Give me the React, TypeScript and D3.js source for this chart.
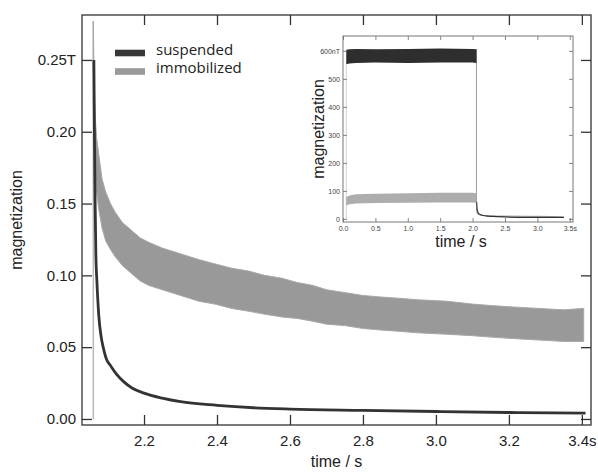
import { useEffect, useRef } from "react";
import * as d3 from "d3";

// main panel, x in s, y in T
const xTicks = [2.2, 2.4, 2.6, 2.8, 3.0, 3.2, 3.4];
const yTicks = [0, 0.05, 0.1, 0.15, 0.2, 0.25];

// suspended: decay curve after the field is switched off
const suspTime = [2.0625, 2.064, 2.066, 2.068, 2.071, 2.076, 2.082, 2.089, 2.098, 2.107, 2.125, 2.144, 2.167, 2.2, 2.25, 2.3, 2.4, 2.5, 2.6, 2.8, 3.0, 3.2, 3.41];
const suspValue = [0.25, 0.2, 0.15, 0.115, 0.095, 0.072, 0.058, 0.049, 0.041, 0.0376, 0.031, 0.026, 0.0216, 0.018, 0.0145, 0.012, 0.0095, 0.0078, 0.0069, 0.006, 0.0052, 0.0045, 0.004];

// immobilized: noisy band, read as upper / lower envelope
const immoTime = [2.061, 2.063, 2.066, 2.07, 2.076, 2.085, 2.095, 2.108, 2.121, 2.14, 2.167, 2.19, 2.213, 2.25, 2.3, 2.35, 2.394, 2.44, 2.487, 2.53, 2.578, 2.62, 2.663, 2.7, 2.75, 2.8, 2.846, 2.9, 2.95, 3.03, 3.1, 3.15, 3.211, 3.28, 3.35, 3.405];
const immoUpper = [0.277, 0.235, 0.212, 0.196, 0.184, 0.167, 0.158, 0.15, 0.144, 0.137, 0.131, 0.126, 0.123, 0.119, 0.115, 0.111, 0.108, 0.105, 0.103, 0.1, 0.098, 0.095, 0.093, 0.09, 0.088, 0.086, 0.085, 0.084, 0.083, 0.082, 0.08, 0.079, 0.078, 0.077, 0.076, 0.077];
const immoLower = [0.25, 0.2, 0.172, 0.158, 0.146, 0.133, 0.124, 0.118, 0.113, 0.107, 0.101, 0.096, 0.093, 0.09, 0.086, 0.082, 0.08, 0.077, 0.075, 0.073, 0.071, 0.07, 0.068, 0.066, 0.065, 0.063, 0.062, 0.061, 0.06, 0.059, 0.058, 0.057, 0.056, 0.055, 0.054, 0.054];
const immoSwitchTime = 2.061;

// inset, x in s, y in nT
const insetXTicks = [0, 0.5, 1.0, 1.5, 2.0, 2.5, 3.0, 3.5];
const insetYTicks = [0, 100, 200, 300, 400, 500, 600];
const insetOnTime = [0.05, 0.1, 0.2, 0.5, 1.0, 1.5, 2.0, 2.06];
const insetSuspUpper = [604, 606, 607, 606, 607, 608, 607, 606];
const insetSuspLower = [552, 555, 557, 558, 557, 558, 558, 557];
const insetImmoUpper = [78, 84, 88, 90, 92, 93, 93, 92];
const insetImmoLower = [48, 52, 55, 57, 58, 59, 59, 58];
const insetOffTime = [2.062, 2.07, 2.08, 2.1, 2.15, 2.2, 2.3, 2.5, 3.0, 3.41];
const insetSuspOff = [60, 35, 25, 18, 13, 11, 9, 7, 5.5, 5];
const insetImmoOff = [40, 22, 18, 15, 13, 12, 11, 10, 9, 8.5];

export default function App() {
  const ref = useRef<SVGSVGElement>(null);

  useEffect(() => {
    const width = 598;
    const height = 473;
    const left = 82, right = 591, top = 15, bottom = 425;
    const font = "'Liberation Sans', Arial, sans-serif";
    const axisColor = "#333";

    const svg = d3.select(ref.current);
    svg.selectAll("*").remove();
    svg.attr("width", width).attr("height", height).attr("viewBox", [0, 0, width, height]);

    const x = d3.scaleLinear().domain([2.03, 3.425]).range([left, right]);
    const y = d3.scaleLinear().domain([-0.0042, 0.2813]).range([bottom, top]);

    // immobilized band
    const immo = immoTime.map((t, i) => ({ t, hi: immoUpper[i], lo: immoLower[i] }));
    svg.append("line")
      .attr("x1", x(immoSwitchTime)).attr("x2", x(immoSwitchTime))
      .attr("y1", y(0)).attr("y2", y(immoUpper[0]))
      .attr("stroke", "#b8b8b8").attr("stroke-width", 1.5);
    svg.append("path")
      .datum(immo)
      .attr("fill", "#999")
      .attr("stroke", "#a8a8a8")
      .attr("stroke-width", 1)
      .attr("d", d3.area<any>().x(d => x(d.t)).y0(d => y(d.lo)).y1(d => y(d.hi)));

    // suspended curve
    svg.append("path")
      .datum(suspTime.map((t, i) => ({ t, v: suspValue[i] })))
      .attr("fill", "none")
      .attr("stroke", "#333")
      .attr("stroke-width", 2.8)
      .attr("stroke-linejoin", "round")
      .attr("d", d3.line<any>().curve(d3.curveMonotoneX).x(d => x(d.t)).y(d => y(d.v)));

    // axes with inward ticks on all four sides
    const styleAxis = (g: any) => {
      g.select(".domain").remove();
      g.selectAll("line").attr("stroke", axisColor).attr("stroke-width", 1.3);
      g.selectAll("text").attr("fill", "#222").attr("font-family", font).attr("font-size", 15);
    };
    svg.append("g")
      .attr("transform", `translate(0,${bottom})`)
      .call(d3.axisBottom(x).tickValues(xTicks).tickSizeInner(-10).tickSizeOuter(0).tickPadding(10)
        .tickFormat(d => (+d === 3.4 ? "3.4s" : d3.format(".1f")(d as number))))
      .call(styleAxis);
    svg.append("g")
      .attr("transform", `translate(0,${top})`)
      .call(d3.axisTop(x).tickValues(xTicks).tickSizeInner(-10).tickSizeOuter(0).tickFormat(() => ""))
      .call(styleAxis);
    svg.append("g")
      .attr("transform", `translate(${left},0)`)
      .call(d3.axisLeft(y).tickValues(yTicks).tickSizeInner(-10).tickSizeOuter(0).tickPadding(6)
        .tickFormat(d => (+d === 0.25 ? "0.25T" : d3.format(".2f")(d as number))))
      .call(styleAxis);
    svg.append("g")
      .attr("transform", `translate(${right},0)`)
      .call(d3.axisRight(y).tickValues(yTicks).tickSizeInner(-10).tickSizeOuter(0).tickFormat(() => ""))
      .call(styleAxis);
    svg.append("rect")
      .attr("x", left).attr("y", top).attr("width", right - left).attr("height", bottom - top)
      .attr("fill", "none").attr("stroke", axisColor).attr("stroke-width", 1.3);

    svg.append("text")
      .attr("x", (left + right) / 2).attr("y", 467)
      .attr("text-anchor", "middle").attr("font-family", font).attr("font-size", 16).attr("fill", "#222")
      .text("time / s");
    svg.append("text")
      .attr("transform", `translate(22,${(top + bottom) / 2}) rotate(-90)`)
      .attr("text-anchor", "middle").attr("font-family", font).attr("font-size", 16).attr("fill", "#222")
      .text("magnetization");

    // legend
    const legend = [
      { name: "suspended", color: "#383838", y: 53 },
      { name: "immobilized", color: "#9a9a9a", y: 71.5 },
    ];
    const lg = svg.append("g");
    lg.selectAll("rect").data(legend).join("rect")
      .attr("x", 115).attr("y", d => d.y - 3.3).attr("width", 30).attr("height", 6.6)
      .attr("fill", d => d.color);
    lg.selectAll("text").data(legend).join("text")
      .attr("x", 156).attr("y", d => d.y + 1.5)
      .attr("font-family", "'Open Sans', sans-serif").attr("font-size", 15).attr("fill", "#222")
      .text(d => d.name);

    // inset
    const il = 343, ir = 573, it = 36, ib = 222;
    const xi = d3.scaleLinear().domain([0, 3.55]).range([il, ir]);
    const yi = d3.scaleLinear().domain([-11, 653]).range([ib, it]);
    const ins = svg.append("g");
    ins.append("rect").attr("x", il).attr("y", it).attr("width", ir - il).attr("height", ib - it).attr("fill", "white");

    const on = insetOnTime.map((t, i) => ({ t, sh: insetSuspUpper[i], sl: insetSuspLower[i], ih: insetImmoUpper[i], il: insetImmoLower[i] }));
    ins.append("line")
      .attr("x1", xi(insetOnTime[0])).attr("x2", xi(insetOnTime[0]))
      .attr("y1", yi(0)).attr("y2", yi(insetSuspLower[0]))
      .attr("stroke", "#d0d0d0").attr("stroke-width", 1);
    ins.append("line")
      .attr("x1", xi(2.06)).attr("x2", xi(2.06))
      .attr("y1", yi(insetSuspUpper[insetSuspUpper.length - 1])).attr("y2", yi(insetSuspOff[0]))
      .attr("stroke", "#9a9a9a").attr("stroke-width", 1);
    ins.append("path").datum(on).attr("fill", "#2e2e2e")
      .attr("d", d3.area<any>().x(d => xi(d.t)).y0(d => yi(d.sl)).y1(d => yi(d.sh)));
    ins.append("path").datum(on).attr("fill", "#adadad")
      .attr("d", d3.area<any>().x(d => xi(d.t)).y0(d => yi(d.il)).y1(d => yi(d.ih)));
    ins.append("path")
      .datum(insetOffTime.map((t, i) => ({ t, v: insetImmoOff[i] })))
      .attr("fill", "none").attr("stroke", "#aaa").attr("stroke-width", 1.2)
      .attr("d", d3.line<any>().curve(d3.curveMonotoneX).x(d => xi(d.t)).y(d => yi(d.v)));
    ins.append("path")
      .datum(insetOffTime.map((t, i) => ({ t, v: insetSuspOff[i] })))
      .attr("fill", "none").attr("stroke", "#333").attr("stroke-width", 1.2)
      .attr("d", d3.line<any>().curve(d3.curveMonotoneX).x(d => xi(d.t)).y(d => yi(d.v)));

    const styleInset = (g: any) => {
      g.select(".domain").remove();
      g.selectAll("line").attr("stroke", "#666").attr("stroke-width", 0.8);
      g.selectAll("text").attr("fill", "#444").attr("font-family", font).attr("font-size", 7);
    };
    ins.append("g").attr("transform", `translate(0,${ib})`)
      .call(d3.axisBottom(xi).tickValues(insetXTicks).tickSizeInner(-4).tickSizeOuter(0).tickPadding(4)
        .tickFormat(d => (+d === 3.5 ? "3.5s" : d3.format(".1f")(d as number))))
      .call(styleInset);
    ins.append("g").attr("transform", `translate(0,${it})`)
      .call(d3.axisTop(xi).tickValues(insetXTicks).tickSizeInner(-4).tickSizeOuter(0).tickFormat(() => ""))
      .call(styleInset);
    ins.append("g").attr("transform", `translate(${il},0)`)
      .call(d3.axisLeft(yi).tickValues(insetYTicks).tickSizeInner(-4).tickSizeOuter(0).tickPadding(3)
        .tickFormat(d => (+d === 600 ? "600nT" : String(d))))
      .call(styleInset);
    ins.append("g").attr("transform", `translate(${ir},0)`)
      .call(d3.axisRight(yi).tickValues(insetYTicks).tickSizeInner(-4).tickSizeOuter(0).tickFormat(() => ""))
      .call(styleInset);
    ins.append("rect").attr("x", il).attr("y", it).attr("width", ir - il).attr("height", ib - it)
      .attr("fill", "none").attr("stroke", "#777").attr("stroke-width", 1);

    ins.append("text")
      .attr("x", (il + ir) / 2 + 3).attr("y", 247)
      .attr("text-anchor", "middle").attr("font-family", font).attr("font-size", 16).attr("fill", "#222")
      .text("time / s");
    ins.append("text")
      .attr("transform", `translate(324,${(it + ib) / 2}) rotate(-90)`)
      .attr("text-anchor", "middle").attr("font-family", font).attr("font-size", 16).attr("fill", "#222")
      .text("magnetization");
  }, []);

  return <svg ref={ref} style={{ position: "absolute", left: 0, top: 0 }}></svg>;
}
